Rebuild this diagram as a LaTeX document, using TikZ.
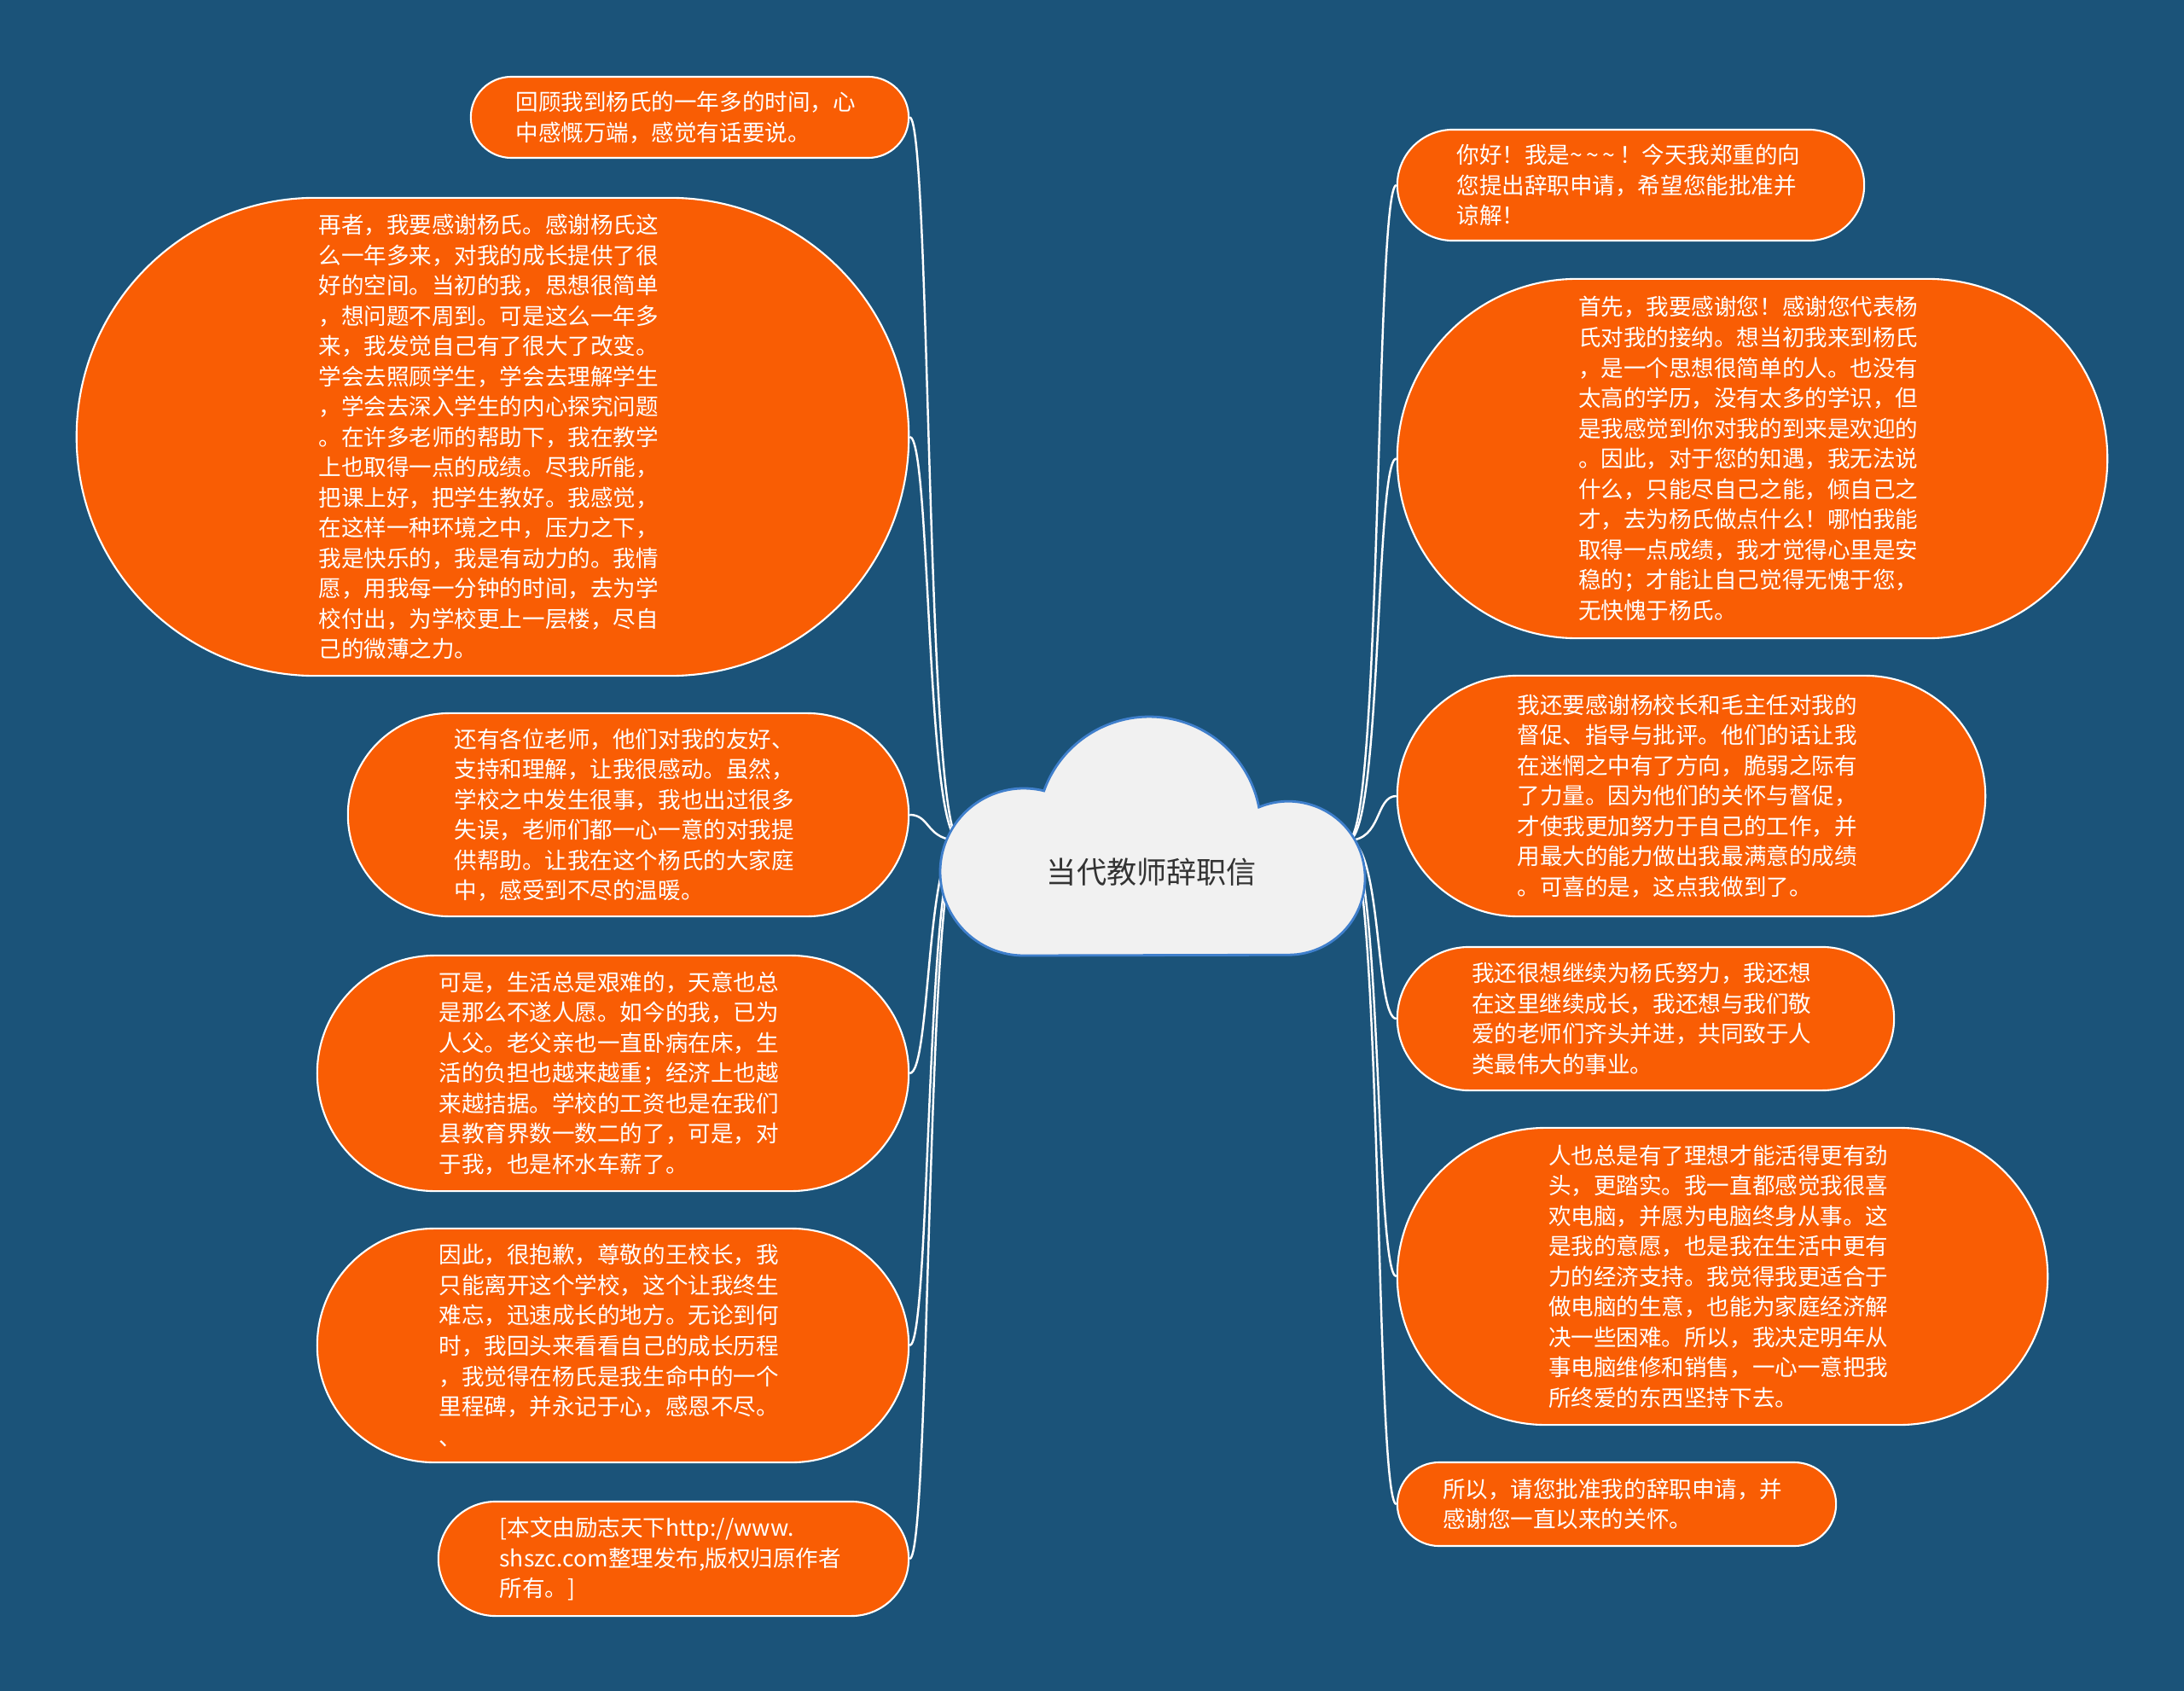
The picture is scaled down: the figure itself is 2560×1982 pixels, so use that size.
\documentclass[tikz,border=0pt]{standalone}
\usepackage{fontspec}
\setmainfont{Noto Sans CJK SC}
\definecolor{bg}{HTML}{1B5379}
\definecolor{orng}{HTML}{F95D04}
\definecolor{cloudfill}{HTML}{F1F1F1}
\definecolor{cloudline}{HTML}{3F7FCC}
\definecolor{centertext}{HTML}{333333}
\newcommand{\mytilde}{\textasciitilde\hspace{0.17em}}
\tikzset{
  topic/.style={draw=white, line width=0.6pt, fill=orng, text=white, align=left,
    text width=116pt, inner xsep=0pt, inner ysep=0pt,
    font=\fontsize{7.55pt}{10.1pt}\selectfont},
  conn/.style={draw=white, line width=0.7pt},
  cloudshape/.style={fill=cloudfill, draw=cloudline, line width=0.8pt}
}
\begin{document}
\begin{tikzpicture}[x=0.01cm,y=-0.01cm]
\useasboundingbox[fill=bg] (0,0) rectangle (2560,1982);

% left topics
\node[topic, minimum width=5.13cm, minimum height=0.95cm, rounded corners=0.475cm] (L1) at (808.5,137.5) {回顾我到杨氏的一年多的时间，心\\
中感慨万端，感觉有话要说。};
\node[topic, minimum width=9.75cm, minimum height=5.60cm, rounded corners=2.80cm] (L2) at (577.5,512) {再者，我要感谢杨氏。感谢杨氏这\\
么一年多来，对我的成长提供了很\\
好的空间。当初的我，思想很简单\\
，想问题不周到。可是这么一年多\\
来，我发觉自己有了很大了改变。\\
学会去照顾学生，学会去理解学生\\
，学会去深入学生的内心探究问题\\
。在许多老师的帮助下，我在教学\\
上也取得一点的成绩。尽我所能，\\
把课上好，把学生教好。我感觉，\\
在这样一种环境之中，压力之下，\\
我是快乐的，我是有动力的。我情\\
愿，用我每一分钟的时间，去为学\\
校付出，为学校更上一层楼，尽自\\
己的微薄之力。};
\node[topic, minimum width=6.57cm, minimum height=2.38cm, rounded corners=1.19cm] (L3) at (736.5,955) {还有各位老师，他们对我的友好、\\
支持和理解，让我很感动。虽然，\\
学校之中发生很事，我也出过很多\\
失误，老师们都一心一意的对我提\\
供帮助。让我在这个杨氏的大家庭\\
中，感受到不尽的温暖。};
\node[topic, minimum width=6.93cm, minimum height=2.76cm, rounded corners=1.38cm] (L4) at (718.5,1258) {可是，生活总是艰难的，天意也总\\
是那么不遂人愿。如今的我，已为\\
人父。老父亲也一直卧病在床，生\\
活的负担也越来越重；经济上也越\\
来越拮据。学校的工资也是在我们\\
县教育界数一数二的了，可是，对\\
于我，也是杯水车薪了。};
\node[topic, minimum width=6.93cm, minimum height=2.74cm, rounded corners=1.37cm] (L5) at (718.5,1577) {因此，很抱歉，尊敬的王校长，我\\
只能离开这个学校，这个让我终生\\
难忘，迅速成长的地方。无论到何\\
时，我回头来看看自己的成长历程\\
，我觉得在杨氏是我生命中的一个\\
里程碑，并永记于心，感恩不尽。\\
、};
\node[topic, minimum width=5.51cm, minimum height=1.34cm, rounded corners=0.67cm] (L6) at (789.5,1827) {[本文由励志天下http://www.\\
shszc.com整理发布,版权归原作者\\
所有。]};

% right topics
\node[topic, minimum width=5.47cm, minimum height=1.30cm, rounded corners=0.65cm] (R1) at (1911.5,217) {你好！我是\mytilde\mytilde\mytilde！今天我郑重的向\\
您提出辞职申请，希望您能批准并\\
谅解！};
\node[topic, minimum width=8.32cm, minimum height=4.21cm, rounded corners=2.105cm] (R2) at (2054,537.5) {首先，我要感谢您！感谢您代表杨\\
氏对我的接纳。想当初我来到杨氏\\
，是一个思想很简单的人。也没有\\
太高的学历，没有太多的学识，但\\
是我感觉到你对我的到来是欢迎的\\
。因此，对于您的知遇，我无法说\\
什么，只能尽自己之能，倾自己之\\
才，去为杨氏做点什么！哪怕我能\\
取得一点成绩，我才觉得心里是安\\
稳的；才能让自己觉得无愧于您，\\
无快愧于杨氏。};
\node[topic, minimum width=6.89cm, minimum height=2.82cm, rounded corners=1.41cm] (R3) at (1982.5,933) {我还要感谢杨校长和毛主任对我的\\
督促、指导与批评。他们的话让我\\
在迷惘之中有了方向，脆弱之际有\\
了力量。因为他们的关怀与督促，\\
才使我更加努力于自己的工作，并\\
用最大的能力做出我最满意的成绩\\
。可喜的是，这点我做到了。};
\node[topic, minimum width=5.82cm, minimum height=1.68cm, rounded corners=0.84cm] (R4) at (1929,1194) {我还很想继续为杨氏努力，我还想\\
在这里继续成长，我还想与我们敬\\
爱的老师们齐头并进，共同致于人\\
类最伟大的事业。};
\node[topic, minimum width=7.62cm, minimum height=3.48cm, rounded corners=1.74cm] (R5) at (2019,1496) {人也总是有了理想才能活得更有劲\\
头，更踏实。我一直都感觉我很喜\\
欢电脑，并愿为电脑终身从事。这\\
是我的意愿，也是我在生活中更有\\
力的经济支持。我觉得我更适合于\\
做电脑的生意，也能为家庭经济解\\
决一些困难。所以，我决定明年从\\
事电脑维修和销售，一心一意把我\\
所终爱的东西坚持下去。};
\node[topic, minimum width=5.14cm, minimum height=0.98cm, rounded corners=0.49cm] (R6) at (1895,1763) {所以，请您批准我的辞职申请，并\\
感谢您一直以来的关怀。};

% connector hubs (inside the cloud)
\coordinate (cl) at (1125,985);
\coordinate (cr) at (1580,985);

\foreach \n in {L1,L2,L3,L4,L5,L6}
  \draw[conn] (\n.east) .. controls +(25,0) and +(-40,0) .. (cl);
\foreach \n in {R1,R2,R3,R4,R5,R6}
  \draw[conn] (\n.west) .. controls +(-25,0) and +(40,0) .. (cr);

% central cloud
\draw[cloudshape] (1200,1120)
  arc[start angle=90, end angle=284, radius=98]
  arc[start angle=199.7, end angle=349, radius=131]
  arc[start angle=247.5, end angle=450, radius=90]
  -- cycle;
\node[text=centertext, font=\fontsize{10pt}{12pt}\selectfont, inner sep=0pt] (center) at (1350,1022) {当代教师辞职信};
\end{tikzpicture}
\end{document}
